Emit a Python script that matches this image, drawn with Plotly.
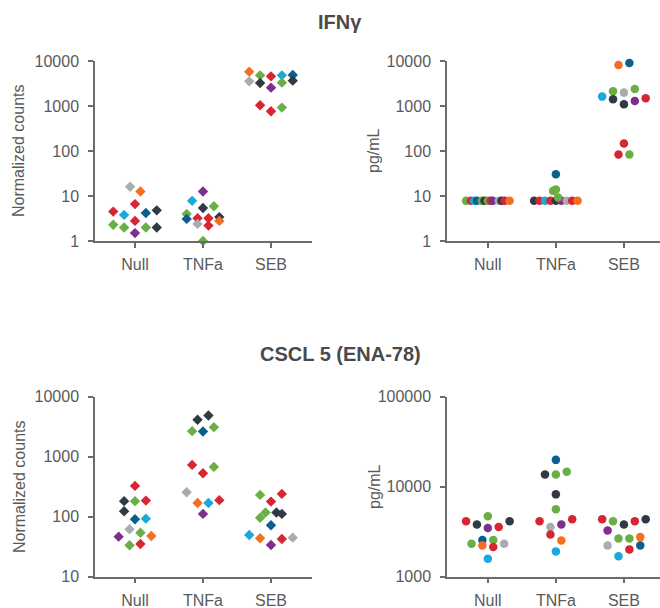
import plotly.graph_objects as go

# ---------------- colours of the 13 donors ----------------
RED, GREEN, CYAN, DBLUE = "#D62631", "#6AAE45", "#1BA9DC", "#0B5F8E"
BLACK, GRAY, ORANGE, PURPLE = "#2F3A45", "#A9ACAF", "#F37021", "#7E2F8E"

categories = ["Null", "TNFa", "SEB"]

# ---------------- IFNγ, normalized counts ----------------
ifng_cnt_null = [16, 12.6, 6.6, 4.5, 3.8, 4.2, 4.8, 2.8, 2.3, 2.0, 2.0, 2.0, 1.5]
ifng_cnt_null_col = [GRAY, ORANGE, RED, RED, CYAN, DBLUE, BLACK, RED, GREEN, GREEN, GREEN, BLACK, PURPLE]
ifng_cnt_null_slot = [-0.45, 0.5, 0, -2, -1, 1, 2, 0, -2, -1, 1, 2, 0]

ifng_cnt_tnfa = [12.6, 7.8, 5.4, 5.9, 4.0, 3.1, 3.2, 2.4, 3.2, 2.2, 3.4, 2.8, 1.0]
ifng_cnt_tnfa_col = [PURPLE, CYAN, BLACK, GREEN, GREEN, DBLUE, RED, GRAY, RED, RED, BLACK, ORANGE, GREEN]
ifng_cnt_tnfa_slot = [0, -1, 0, 1, -1.5, -1.5, -0.5, -0.5, 0.5, 0.5, 1.5, 1.5, 0]

ifng_cnt_seb = [5790, 4800, 4560, 4800, 4870, 3530, 3240, 2560, 3300, 3660, 1037, 763, 921]
ifng_cnt_seb_col = [ORANGE, GREEN, RED, CYAN, DBLUE, GRAY, BLACK, PURPLE, GREEN, BLACK, RED, RED, GREEN]
ifng_cnt_seb_slot = [-2, -1, 0, 1, 2, -2, -1, 0, 1, 2, -1, 0, 1]

# ---------------- IFNγ, pg/mL ----------------
ifng_pg_null = [7.8] * 13
ifng_pg_null_col = [GREEN, RED, CYAN, DBLUE, GREEN, BLACK, GREEN, RED, PURPLE, GRAY, BLACK, RED, ORANGE]
ifng_pg_null_slot = [-2, -1.55, -1.25, -1, -0.55, -0.3, 0, 0.25, 0.45, 1, 1.25, 1.55, 2]

ifng_pg_tnfa = [7.8, 7.8, 7.8, 7.8, 7.8, 7.8, 7.8, 7.8, 7.8, 30.6, 13.0, 14.0, 9.3]
ifng_pg_tnfa_col = [BLACK, RED, CYAN, RED, BLACK, PURPLE, GRAY, RED, ORANGE, DBLUE, GREEN, GREEN, GREEN]
ifng_pg_tnfa_slot = [-2, -1.5, -1, -0.5, 0, 0.5, 1, 1.5, 2, 0, -0.25, 0, 0.2]

ifng_pg_seb = [8110, 8980, 1616, 2118, 1983, 2383, 1408, 1091, 1291, 1482, 147, 83.6, 83.6]
ifng_pg_seb_col = [ORANGE, DBLUE, CYAN, GREEN, GRAY, GREEN, BLACK, BLACK, PURPLE, RED, RED, RED, GREEN]
ifng_pg_seb_slot = [-0.5, 0.5, -2, -1, 0, 1, -1, 0, 1, 2, 0, -0.5, 0.5]

# ---------------- CSCL 5 (ENA-78), normalized counts ----------------
cxcl_cnt_null = [325, 181, 181, 185, 123, 90.5, 92.6, 61.7, 54, 47.7, 46.4, 33.4, 35.1]
cxcl_cnt_null_col = [RED, BLACK, GREEN, RED, BLACK, DBLUE, CYAN, GRAY, GREEN, ORANGE, PURPLE, GREEN, RED]
cxcl_cnt_null_slot = [0, -1, 0, 1, -1, 0, 1, -0.5, 0.5, 1.5, -1.5, -0.5, 0.5]

cxcl_cnt_tnfa = [4820, 4090, 2650, 2610, 3090, 727, 529, 673, 255, 169, 169, 188, 111]
cxcl_cnt_tnfa_col = [BLACK, BLACK, GREEN, DBLUE, GREEN, RED, RED, GREEN, GRAY, ORANGE, CYAN, RED, PURPLE]
cxcl_cnt_tnfa_slot = [0.5, -0.5, -1, 0, 1, -1, 0, 1, -1.5, -0.5, 0.5, 1.5, 0]

cxcl_cnt_seb = [230, 239, 178, 117, 96, 117, 111, 72, 49.5, 43.6, 33.7, 42.5, 44.7]
cxcl_cnt_seb_col = [GREEN, RED, RED, GREEN, GREEN, BLACK, BLACK, DBLUE, CYAN, ORANGE, PURPLE, RED, GRAY]
cxcl_cnt_seb_slot = [-1, 1, 0, -0.5, -1, 0.5, 1, 0, -2, -1, 0, 1, 2]

# ---------------- CSCL 5 (ENA-78), pg/mL ----------------
cxcl_pg_null = [4120, 3800, 4690, 3480, 3570, 4120, 2320, 2560, 2220, 2560, 2130, 2320, 1580]
cxcl_pg_null_col = [RED, BLACK, GREEN, PURPLE, RED, BLACK, GREEN, DBLUE, ORANGE, GREEN, RED, GRAY, CYAN]
cxcl_pg_null_slot = [-2, -1, 0, 0, 1, 2, -1.5, -0.5, -0.5, 0.5, 0.5, 1.5, 0]

cxcl_pg_tnfa = [19800, 13650, 13650, 14630, 8200, 5600, 4120, 4350, 3570, 3800, 2940, 2520, 1910]
cxcl_pg_tnfa_col = [DBLUE, BLACK, GREEN, GREEN, BLACK, GREEN, RED, RED, GRAY, PURPLE, RED, ORANGE, CYAN]
cxcl_pg_tnfa_slot = [0, -1, 0, 1, 0, 0, -1.5, 1.5, -0.5, 0.5, -0.5, 0.5, 0]

cxcl_pg_seb = [4350, 4120, 3800, 4120, 4350, 3260, 2660, 2660, 2750, 2220, 2010, 2220, 1690]
cxcl_pg_seb_col = [RED, GREEN, BLACK, RED, BLACK, PURPLE, GREEN, GREEN, ORANGE, GRAY, RED, DBLUE, CYAN]
cxcl_pg_seb_slot = [-2, -1, 0, 1, 2, -1.5, -0.5, 0.5, 1.5, -1.5, 0.5, 1.5, -0.5]

SLOT = 0.16  # horizontal swarm step (category units)

panels = [
    ("x1", "y1", "diamond", [(ifng_cnt_null, ifng_cnt_null_col, ifng_cnt_null_slot),
                             (ifng_cnt_tnfa, ifng_cnt_tnfa_col, ifng_cnt_tnfa_slot),
                             (ifng_cnt_seb, ifng_cnt_seb_col, ifng_cnt_seb_slot)]),
    ("x2", "y2", "circle", [(ifng_pg_null, ifng_pg_null_col, ifng_pg_null_slot),
                            (ifng_pg_tnfa, ifng_pg_tnfa_col, ifng_pg_tnfa_slot),
                            (ifng_pg_seb, ifng_pg_seb_col, ifng_pg_seb_slot)]),
    ("x3", "y3", "diamond", [(cxcl_cnt_null, cxcl_cnt_null_col, cxcl_cnt_null_slot),
                             (cxcl_cnt_tnfa, cxcl_cnt_tnfa_col, cxcl_cnt_tnfa_slot),
                             (cxcl_cnt_seb, cxcl_cnt_seb_col, cxcl_cnt_seb_slot)]),
    ("x4", "y4", "circle", [(cxcl_pg_null, cxcl_pg_null_col, cxcl_pg_null_slot),
                            (cxcl_pg_tnfa, cxcl_pg_tnfa_col, cxcl_pg_tnfa_slot),
                            (cxcl_pg_seb, cxcl_pg_seb_col, cxcl_pg_seb_slot)]),
]

fig = go.Figure()
for xa, ya, sym, groups in panels:
    for ci, (vals, cols, slots) in enumerate(groups):
        fig.add_trace(go.Scatter(
            x=[ci + s * SLOT for s in slots], y=vals, mode="markers",
            xaxis=xa, yaxis=ya, cliponaxis=False, showlegend=False,
            hoverinfo="skip",
            marker=dict(symbol=sym, size=8 if sym == "diamond" else 8.5,
                        color=cols, line=dict(width=0)),
        ))

W, H = 660, 608
AX = "#6b6b6b"
TICKFONT = dict(family="Liberation Sans, Arial, sans-serif", size=16, color="#5a5a5a")


def xaxis(dom, anchor, rng):
    return dict(domain=dom, anchor=anchor, range=rng, tickmode="array",
                tickvals=[0, 1, 2], ticktext=categories, showline=True,
                linecolor=AX, linewidth=1.5, ticks="outside", ticklen=5,
                tickcolor=AX, tickwidth=1.5, showgrid=False, zeroline=False,
                tickfont=TICKFONT, ticklabelstandoff=3, automargin=False,
                fixedrange=True)


def yaxis(dom, anchor, rng, tv):
    return dict(domain=dom, anchor=anchor, type="log", range=rng,
                tickmode="array", tickvals=tv, ticktext=[str(v) for v in tv],
                showline=True, linecolor=AX, linewidth=1.5, ticks="outside",
                ticklen=5, tickcolor=AX, tickwidth=1.5, showgrid=False,
                zeroline=False, tickfont=TICKFONT, ticklabelstandoff=6,
                automargin=False, fixedrange=True)


xl = [95 / W, 312 / W]
xr = [447 / W, 1.0]
yt = [1 - 241 / H, 1 - 61 / H]
yb = [1 - 576.7 / H, 1 - 396.5 / H]

fig.update_layout(
    width=W, height=H, margin=dict(l=0, r=0, t=0, b=0, autoexpand=False),
    paper_bgcolor="white", plot_bgcolor="white",
    xaxis=xaxis(xl, "y", [-0.588, 2.603]),
    yaxis=yaxis(yt, "x", [0, 4], [1, 10, 100, 1000, 10000]),
    xaxis2=xaxis(xr, "y2", [-0.6, 2.53]),
    yaxis2=yaxis(yt, "x2", [0, 4], [1, 10, 100, 1000, 10000]),
    xaxis3=xaxis(xl, "y3", [-0.588, 2.603]),
    yaxis3=yaxis(yb, "x3", [1, 4], [10, 100, 1000, 10000]),
    xaxis4=xaxis(xr, "y4", [-0.6, 2.53]),
    yaxis4=yaxis(yb, "x4", [3, 5], [1000, 10000, 100000]),
)

TITLEFONT = dict(family="Liberation Sans, Arial, sans-serif", size=20, color="#4a4a4a")
LABFONT = dict(family="Liberation Sans, Arial, sans-serif", size=16, color="#5a5a5a")
ann = [
    dict(text="<b>IFNγ</b>", x=340 / W, y=1 - 22 / H, font=TITLEFONT),
    dict(text="<b>CSCL 5 (ENA-78)</b>", x=340 / W, y=1 - 354 / H, font=TITLEFONT),
    dict(text="Normalized counts", x=19 / W, y=1 - 151 / H, textangle=-90, font=LABFONT),
    dict(text="pg/mL", x=374 / W, y=1 - 151 / H, textangle=-90, font=LABFONT),
    dict(text="Normalized counts", x=19 / W, y=1 - 487 / H, textangle=-90, font=LABFONT),
    dict(text="pg/mL", x=374 / W, y=1 - 487 / H, textangle=-90, font=LABFONT),
]
for a in ann:
    fig.add_annotation(xref="paper", yref="paper", showarrow=False,
                       xanchor="center", yanchor="middle", **a)

fig.write_html("out.html", config={"displayModeBar": False},
               post_script="document.body.style.margin='0';"
                           "document.body.style.overflow='hidden';")
